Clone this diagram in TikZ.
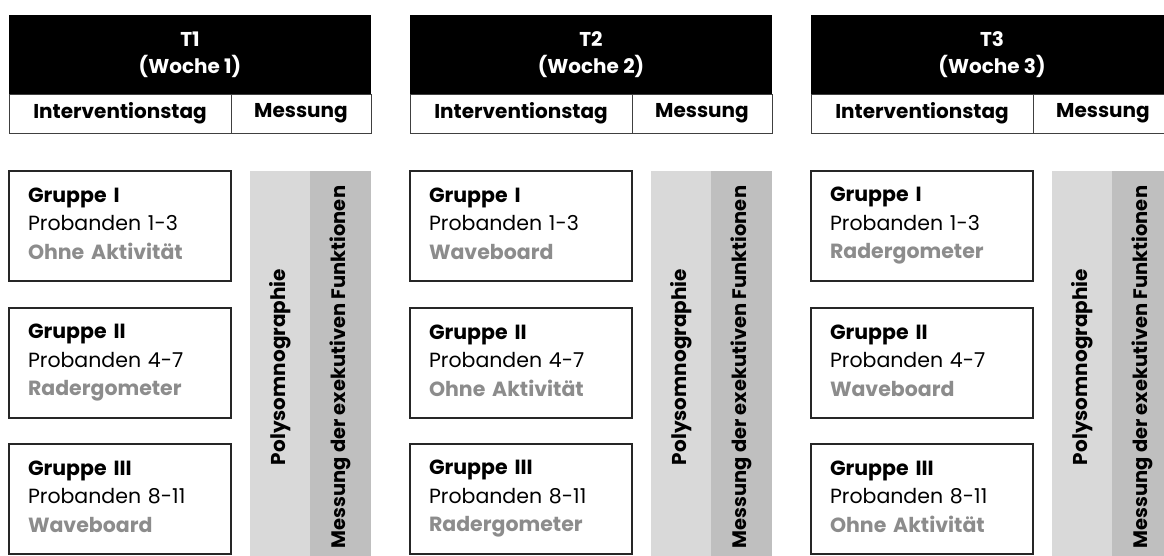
\documentclass[tikz,border=0pt]{standalone}
\usepackage{fontspec}
\setmainfont{Poppins}
\usetikzlibrary{positioning}
\definecolor{polygray}{HTML}{D9D9D9}
\definecolor{messgray}{HTML}{BFBFBF}
\definecolor{actgray}{HTML}{8C8C8C}

\begin{document}
\begin{tikzpicture}[x=1pt,y=-1pt,
	every node/.style={inner sep=0pt,outer sep=0pt},
	headbox/.style={fill=black,text=white,align=center,minimum width=362pt,minimum height=79pt,anchor=north west,font=\bfseries\fontsize{20}{27}\selectfont},
	subbox/.style={draw=black!75,line width=0.8pt,minimum height=39pt,anchor=north west,font=\bfseries\fontsize{20}{22}\selectfont},
	groupbox/.style={draw=black!85,line width=1.3pt,fill=white,minimum width=222pt,minimum height=110pt,text width=184pt,align=left,anchor=north west,font=\fontsize{20.5}{28.5}\selectfont},
	polybar/.style={fill=polygray,rotate=90,minimum width=392pt,minimum height=60pt,font=\bfseries\fontsize{20}{22}\selectfont},
	messbar/.style={fill=messgray,rotate=90,minimum width=392pt,minimum height=61pt,font=\bfseries\fontsize{19.5}{22}\selectfont}]
	\useasboundingbox (0,0) rectangle (1164,555);
	\clip (0,0) rectangle (1164,555);
	\fill [white] (0,0) rectangle (1164,555);
	% one panel per week
	\foreach \t/\ga/\gb/\gc [count=\i from 0] in {1/Ohne Aktivität/Radergometer/Waveboard,
			2/Waveboard/Ohne Aktivität/Radergometer,
			3/Radergometer/Waveboard/Ohne Aktivität}{
		\pgfmathsetmacro{\px}{9+401*\i}
		\node [headbox] (t\t head) at (\px,15) {T\t\\(Woche \t)};
		\node [subbox,minimum width=222pt] (t\t int) at (\px,94) {Interventionstag};
		\node [subbox,minimum width=140pt] (t\t mess) at (\px+222,94) {Messung};
		\node [groupbox] (t\t g1) at (\px,171) {\textbf{Gruppe I}\\Probanden 1-3\\\textcolor{actgray}{\textbf{\ga}}\vphantom{g}};
		\node [groupbox] (t\t g2) at (\px,308) {\textbf{Gruppe II}\\Probanden 4-7\\\textcolor{actgray}{\textbf{\gb}}\vphantom{g}};
		\node [groupbox] (t\t g3) at (\px,444) {\textbf{Gruppe III}\\Probanden 8-11\\\textcolor{actgray}{\textbf{\gc}}\vphantom{g}};
		\node [polybar] (t\t poly) at (\px+271,367) {Polysomnographie};
		\node [messbar] (t\t ef) at (\px+331.5,367) {Messung der exekutiven Funktionen};
	}
\end{tikzpicture}
\end{document}
